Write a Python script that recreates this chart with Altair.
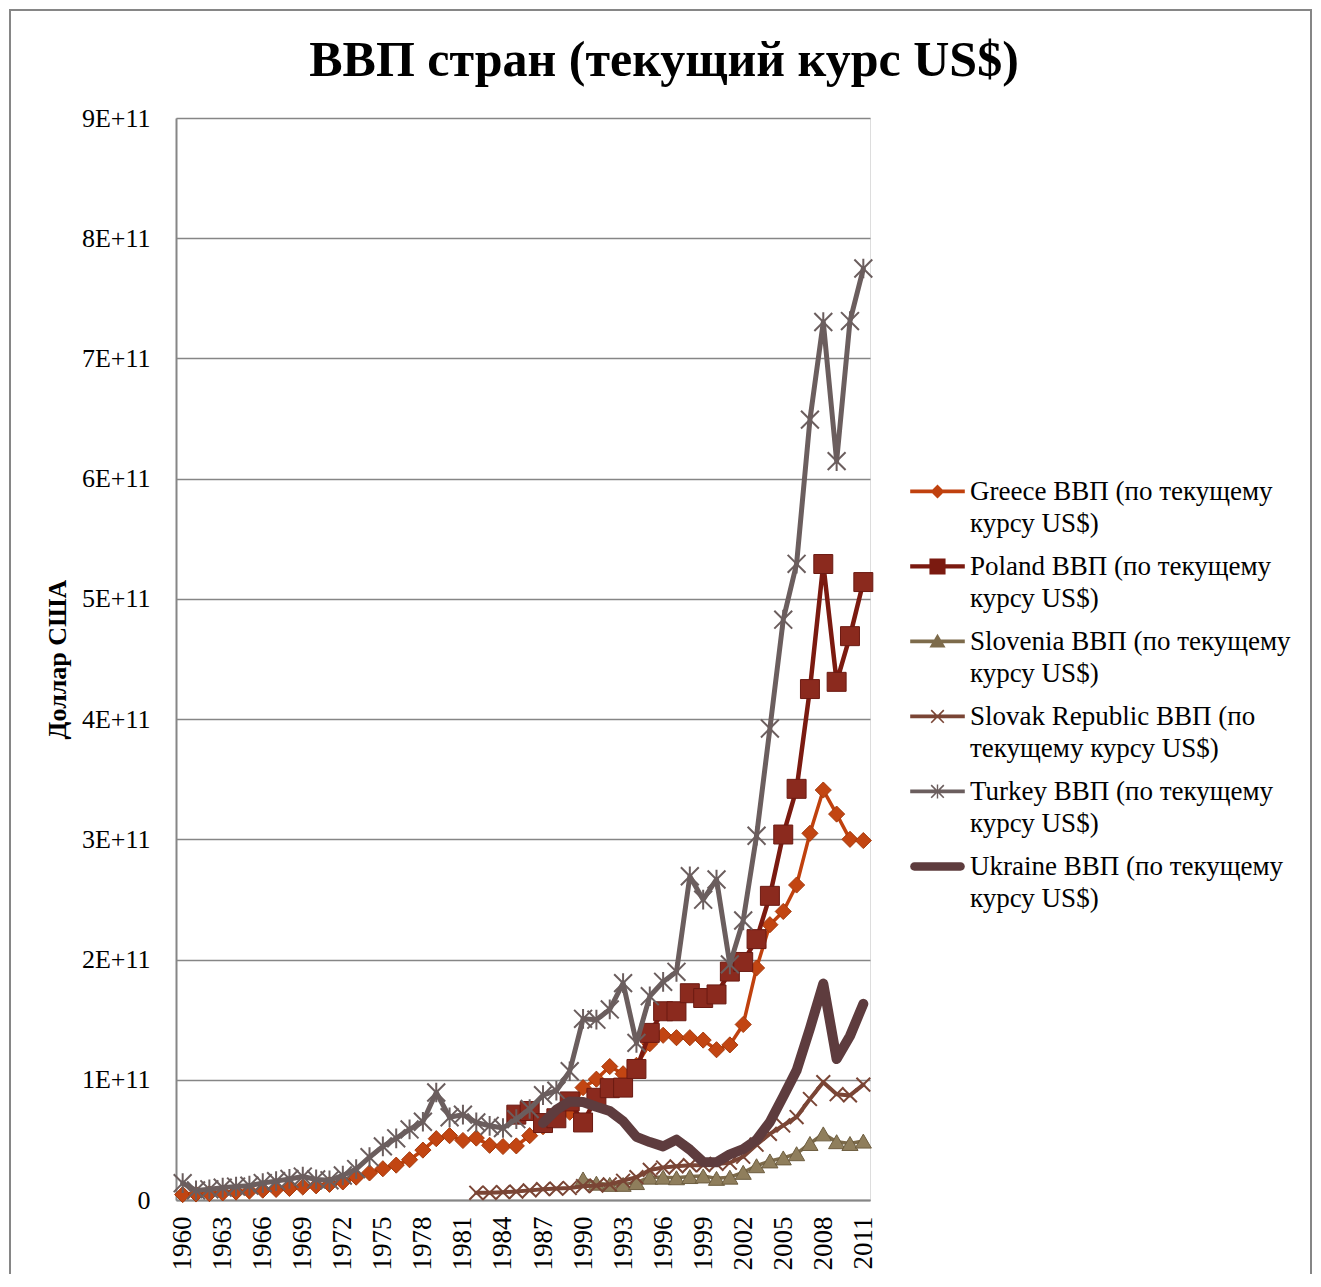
import altair as alt
import pandas as pd

# ---------------- data (billions of current US$) ----------------
years = list(range(1960, 2012))

greece = [4.5, 5.0, 5.3, 5.9, 6.6, 7.4, 8.2, 8.8, 9.6, 10.8,
          11.8, 13.0, 15.0, 19.0, 22.5, 26.0, 29.0, 33.5, 41.5, 51.0,
          53.5, 49.5, 51.5, 45.5, 44.5, 45.0, 53.5, 61.0, 69.0, 73.0,
          93.5, 100.5, 111.0, 105.0, 112.0, 130.0, 137.0, 135.0, 135.0, 133.0,
          125.0, 129.0, 146.0, 193.0, 229.0, 240.0, 262.0, 305.0, 341.0, 321.0,
          300.0, 299.0]

turkey = [14.0, 8.0, 8.9, 10.3, 11.2, 11.9, 14.1, 15.7, 17.5, 19.5,
          17.1, 16.4, 20.4, 25.7, 35.6, 44.6, 51.3, 58.7, 65.1, 89.4,
          68.8, 71.0, 64.5, 61.7, 59.9, 67.2, 75.7, 87.2, 90.9, 107.1,
          150.7, 150.0, 158.5, 180.4, 130.7, 169.5, 181.5, 189.8, 269.3, 249.8,
          266.6, 196.0, 232.5, 303.0, 392.2, 482.7, 529.2, 649.1, 730.3, 614.6,
          731.1, 774.8]

poland_years = list(range(1985, 2012))
poland = [71.0, 74.0, 64.0, 68.0, 82.0,
          64.5, 85.0, 93.0, 93.5, 109.0, 139.0, 157.0, 157.0, 172.0, 168.0,
          171.0, 190.0, 198.0, 217.0, 253.0, 304.0, 342.0, 425.0, 529.0, 431.0,
          469.0, 514.0]

slovenia_years = list(range(1990, 2012))
slovenia = [17.5, 14.0, 13.0, 13.0, 14.5, 19.0, 19.0, 18.5, 19.5, 20.0,
            18.0, 19.0, 23.0, 28.5, 32.5, 35.0, 38.5, 47.0, 55.0, 48.5,
            47.0, 49.0]

slovak_years = list(range(1982, 2012))
slovak = [6.0, 6.0, 6.5, 7.0, 8.0, 9.0, 9.5, 10.0,
          11.5, 12.0, 13.0, 16.0, 19.0, 25.0, 27.0, 28.0, 29.0, 29.0,
          30.0, 31.0, 36.0, 46.0, 55.0, 62.0, 69.0, 84.0, 98.0, 88.0,
          87.0, 96.0]

ukraine_years = list(range(1987, 2012))
ukraine = [64.0, 75.0, 82.0,
           81.5, 77.5, 74.0, 65.6, 52.5, 48.2, 44.6, 50.2, 41.9, 31.6,
           31.3, 38.0, 42.4, 50.1, 64.9, 86.1, 107.8, 142.7, 180.0, 117.2,
           136.4, 163.2]

legend_labels = [
    "Greece ВВП (по текущему|курсу US$)",
    "Poland ВВП (по текущему|курсу US$)",
    "Slovenia ВВП (по текущему|курсу US$)",
    "Slovak Republic ВВП (по|текущему курсу US$)",
    "Turkey ВВП (по текущему|курсу US$)",
    "Ukraine ВВП (по текущему|курсу US$)",
]

y_ticks = [i * 1e11 for i in range(10)]
x_ticks = list(range(1960, 2012, 3))

# ---------------- styling ----------------
SERIF = "Liberation Serif"
GRID = "#868686"

line_colors = ["#C0410E", "#7B1A10", "#7D6B4B", "#7A4535", "#6B5E5E", "#5E3C3E"]
line_widths = [3.5, 4.5, 3.5, 4, 5, 10]
marker_fill = ["#C24512", "#8B2A1E", "#8F7E5C", "#7A4535", "#6B5E5E", None]
marker_stroke = ["#A5390B", "#6B1A12", "#6E5E40", "#7A4535", "#6B5E5E", None]
X_PATH = "M-1,-1L1,1M-1,1L1,-1"
AST_PATH = "M-1,-1L1,1M-1,1L1,-1M0,-1.1L0,1.1"
marker_shape = ["diamond", "square", "triangle-up", X_PATH, AST_PATH, None]
marker_size = [260, 360, 260, 190, 320, 0]
marker_filled = [True, True, True, False, False, False]


def r(v):
    return round(v, 3)


# legend symbols: line + marker in one filled path (1 unit = 7 px),
# shifted down so that the symbol sits on the first label line
c = 1.85
BAR = f"M-3.9,{r(c-0.27)}H3.9V{r(c+0.27)}H-3.9Z"
XMARK = (f"M-0.82,{r(c-0.98)}L0.98,{r(c+0.82)}L0.82,{r(c+0.98)}L-0.98,{r(c-0.82)}Z"
         f"M0.82,{r(c-0.98)}L0.98,{r(c-0.82)}L-0.82,{r(c+0.98)}L-0.98,{r(c+0.82)}Z")
legend_paths = [
    BAR + f"M0,{r(c-1)}L1,{r(c)}L0,{r(c+1)}L-1,{r(c)}Z",
    f"M-3.9,{r(c-0.3)}H3.9V{r(c+0.3)}H-3.9Z" + f"M-1.15,{r(c-1.15)}H1.15V{r(c+1.15)}H-1.15Z",
    BAR + f"M0,{r(c-1.1)}L1.15,{r(c+0.85)}H-1.15Z",
    BAR + XMARK,
    BAR + XMARK + f"M-0.1,{r(c-1)}H0.1V{r(c+1)}H-0.1Z",
    f"M-3.3,{r(c-0.6)}H3.3A0.6,0.6 0 0 1 3.3,{r(c+0.6)}H-3.3A0.6,0.6 0 0 1 -3.3,{r(c-0.6)}Z",
]

series = [
    (years, greece),
    (poland_years, poland),
    (slovenia_years, slovenia),
    (slovak_years, slovak),
    (years, turkey),
    (ukraine_years, ukraine),
]

x_enc = alt.X(
    "year:Q",
    scale=alt.Scale(domain=[1959.5, 2011.5], nice=False, zero=False),
    axis=alt.Axis(
        values=x_ticks, format="d", labelAngle=270, labelAlign="right",
        labelBaseline="middle", labelFont=SERIF, labelFontSize=27,
        labelColor="black", labelPadding=16, labelOverlap=False,
        labelFlush=False, ticks=False, grid=False, domainColor=GRID,
        domainWidth=2, title=None,
    ),
)
y_enc = alt.Y(
    "gdp:Q",
    scale=alt.Scale(domain=[0, 9e11], nice=False),
    axis=alt.Axis(
        values=y_ticks,
        labelExpr="datum.value == 0 ? '0' : format(datum.value / 1e11, 'd') + 'E+11'",
        labelFont=SERIF, labelFontSize=26, labelColor="black",
        labelPadding=26, ticks=False, grid=True, gridColor=GRID,
        gridWidth=1.5, domainColor=GRID, domainWidth=2,
        title="Доллар США", titleFont=SERIF, titleFontSize=26,
        titleFontWeight="bold", titleColor="black", titlePadding=11,
    ),
)

layers = []

# chart-area frame
frame = alt.Chart(pd.DataFrame({"k": [1]})).mark_rect(
    filled=False, stroke=GRID, strokeWidth=2
).encode(
    x=alt.value(-166), x2=alt.value(1135), y=alt.value(-108), y2=alt.value(1180)
)
layers.append(frame)

for i, (yrs, vals) in enumerate(series):
    df = pd.DataFrame({"year": yrs, "gdp": [v * 1e9 for v in vals]})
    base = alt.Chart(df)
    layers.append(
        base.mark_line(color=line_colors[i], strokeWidth=line_widths[i],
                       strokeJoin="round", strokeCap="round")
        .encode(x=x_enc, y=y_enc)
    )
    if marker_shape[i] is not None:
        if marker_filled[i]:
            pt = base.mark_point(shape=marker_shape[i], filled=True,
                                 fill=marker_fill[i], stroke=marker_stroke[i],
                                 strokeWidth=1, size=marker_size[i], opacity=1)
        else:
            pt = base.mark_point(shape=marker_shape[i], filled=False,
                                 color=marker_stroke[i], strokeWidth=2,
                                 size=marker_size[i], opacity=1)
        layers.append(pt.encode(x=x_enc, y=y_enc))

leg = alt.Legend(
    title=None, orient="none", legendX=748, legendY=347, direction="vertical",
    labelExpr="split(datum.label, '|')", labelFont=SERIF, labelFontSize=27,
    labelColor="black", labelLimit=500, labelBaseline="top",
    symbolSize=196, symbolStrokeWidth=0, symbolOpacity=1, labelOffset=19,
    rowPadding=3, padding=0,
)
legend_layer = alt.Chart(pd.DataFrame({"label": legend_labels})).mark_point(
    filled=True, opacity=1
).encode(
    color=alt.Color("label:N", scale=alt.Scale(domain=legend_labels, range=line_colors), legend=leg),
    shape=alt.Shape("label:N", scale=alt.Scale(domain=legend_labels, range=legend_paths), legend=leg),
).transform_filter("false")
layers.append(legend_layer)

chart = alt.layer(*layers).properties(
    width=694, height=1082,
    title=alt.Title(
        "ВВП стран (текущий курс US$)", font=SERIF, fontSize=50,
        fontWeight="bold", color="black", anchor="middle", baseline="alphabetic",
        dx=141, dy=117, offset=0,
    ),
    autosize=alt.AutoSizeParams(type="none"),
    padding={"left": 168, "top": 110, "right": 443, "bottom": 74},
).configure_view(stroke=None).configure(
    background="white",
    style={"guide-label": {"lineHeight": 32}},
)

chart.save("out.html", embed_options={"renderer": "svg", "actions": False})
